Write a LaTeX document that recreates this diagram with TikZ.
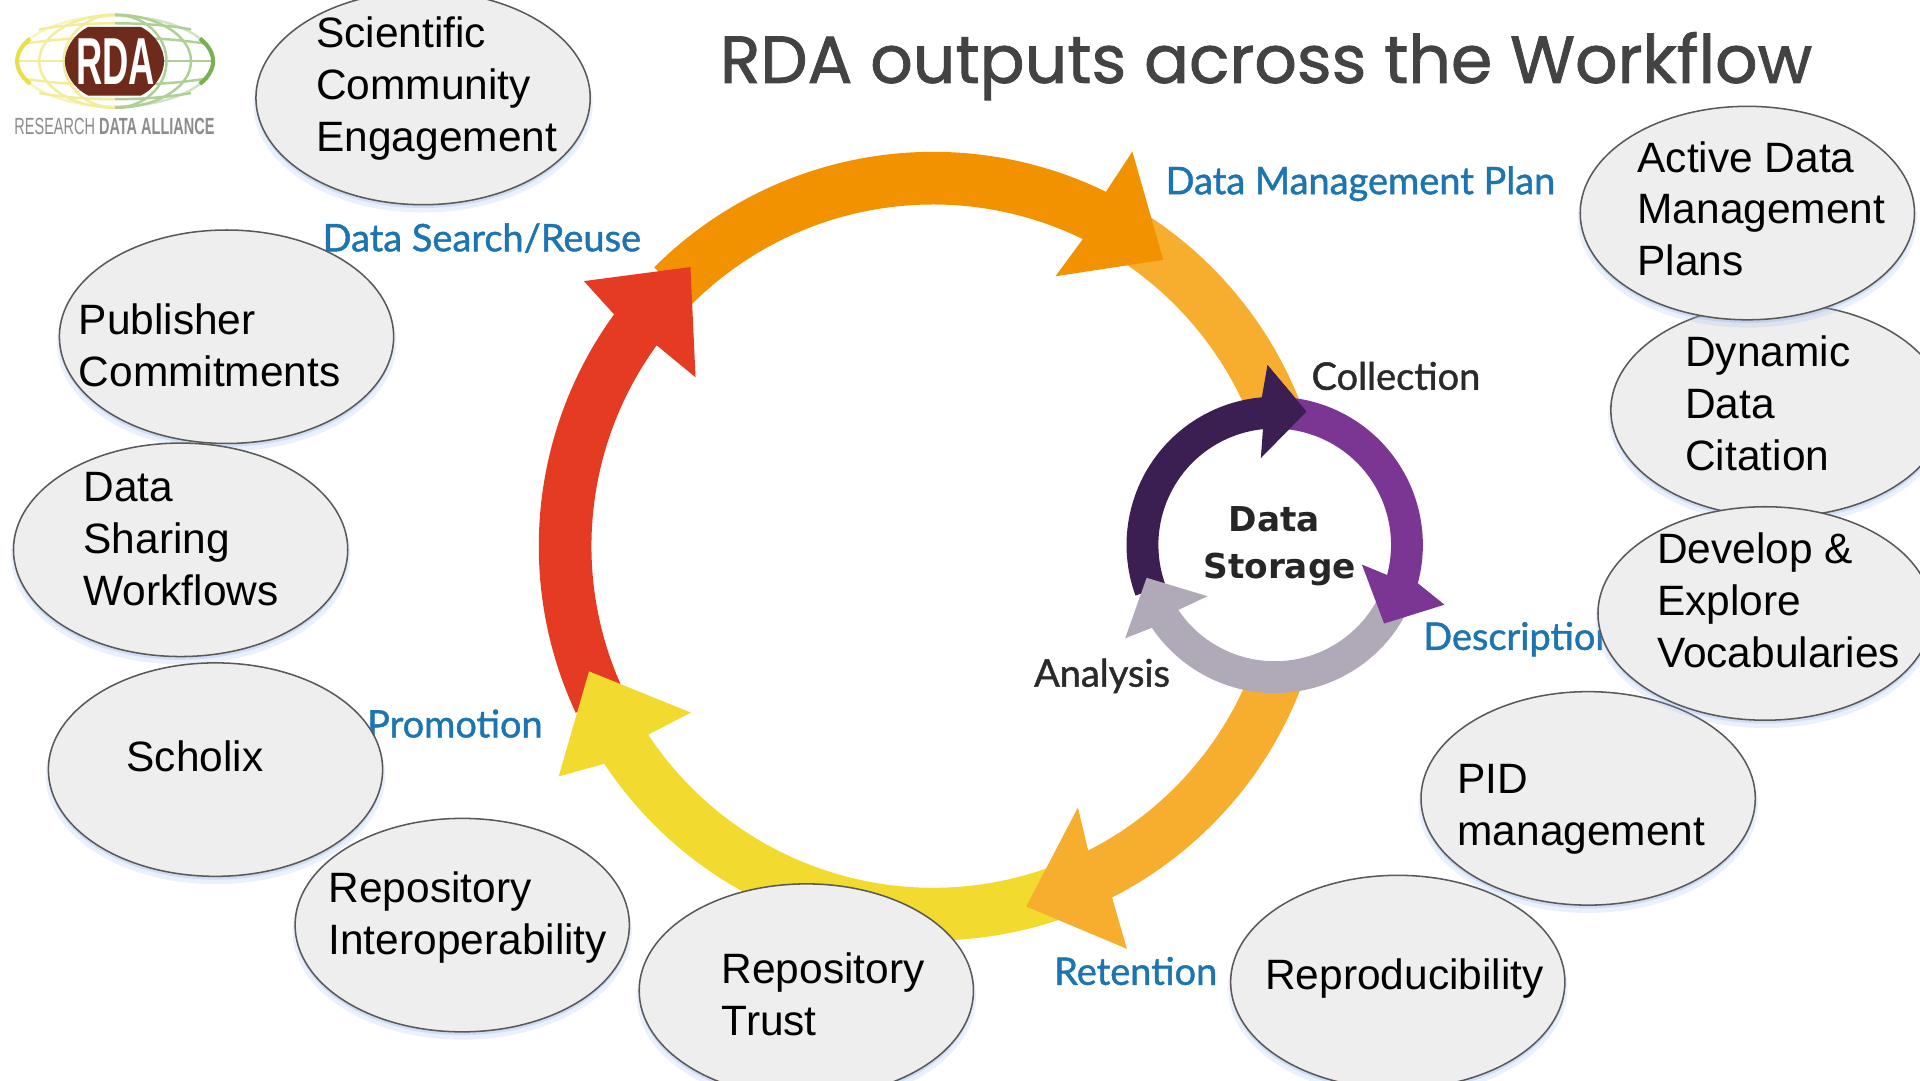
\documentclass[tikz,border=0pt]{standalone}
\usepackage{fontspec}
\setmainfont{Liberation Sans}
\newfontfamily\titlefont[FakeBold=1.2]{Poppins}
\newfontfamily\labfont[FakeBold=1.2]{Lato}
\newfontfamily\storefont{DejaVu Sans}
\usetikzlibrary{shapes.geometric,shadows}
\definecolor{bubfill}{HTML}{EEEEEE}
\definecolor{bubline}{HTML}{595959}
\definecolor{glow}{HTML}{7FA6F0}
\definecolor{titlegrey}{HTML}{434343}
\definecolor{blab}{HTML}{1C75B1}
\definecolor{dlab}{HTML}{2A2A2A}
\definecolor{ordark}{HTML}{F39200}
\definecolor{orlight}{HTML}{F7AE2E}
\definecolor{ringred}{HTML}{E53B23}
\definecolor{ringyel}{HTML}{F2DA2F}
\definecolor{pdark}{HTML}{3C1F52}
\definecolor{pmid}{HTML}{7B3593}
\definecolor{pgrey}{HTML}{B0A9B7}
\definecolor{rdabrown}{HTML}{6E2A1B}
\definecolor{rdagrey}{HTML}{8C8C8C}
\definecolor{gyel}{HTML}{E9DF4A}
\definecolor{ggrn}{HTML}{78B050}
\tikzset{
  bub/.style={ellipse,draw=bubline,line width=0.75pt,fill=bubfill,minimum width=163.8pt,minimum height=104.6pt,inner sep=0pt,
    general shadow={fill=glow,opacity=.16,shadow yshift=-3pt,shadow scale=1.015},
    general shadow={fill=glow,opacity=.25,shadow yshift=-1.6pt}},
  txt/.style={anchor=west,inner sep=0pt,align=left,text=black,font=\fontsize{20.8}{25.45}\selectfont},
  blue label/.style={anchor=center,inner sep=0pt,text=blab,font=\labfont\fontsize{18.6}{22}\selectfont},
  dark label/.style={anchor=center,inner sep=0pt,text=dlab,font=\labfont\fontsize{18.6}{22}\selectfont},
  store/.style={anchor=center,inner sep=0pt,align=center,text=black!85,font=\storefont\bfseries\fontsize{16.8}{23}\selectfont},
  logo pale yellow/.style={draw=gyel!55,line width=1.2pt},
  logo pale green/.style={draw=ggrn!60,line width=1.2pt},
}
% colour, R outer, R inner, tail angle, head-base angle, head points
\newcommand{\ringarrow}[6]{\fill[#1] (#4:#2) arc[start angle=#4,end angle=#5,radius=#2] #6 -- (#5:#3) arc[start angle=#5,end angle=#4,radius=#3] -- cycle;}
\begin{document}
\begin{tikzpicture}[x=0.6pt,y=0.6pt]
\useasboundingbox (0,-882) rectangle (1568,0);
\clip (0,-882) rectangle (1568,0);
\fill[white] (0,-882) rectangle (1568,0);

% logo
\begin{scope}
  \clip (0,-100) rectangle (94,0);
  \begin{scope}[every path/.append style={logo pale yellow}]
    \draw[gyel!35] (94,-50) ellipse [x radius=80,y radius=37];
    \draw (94,-50) ellipse [x radius=62,y radius=38];
    \draw (94,-50) ellipse [x radius=42,y radius=38];
    \draw (14,-50) -- (94,-50);
    \draw (18,-36) .. controls (50,-31) and (70,-31) .. (94,-31);
    \draw (18,-64) .. controls (50,-69) and (70,-69) .. (94,-69);
    \draw (32,-24) .. controls (55,-20) and (75,-19) .. (94,-19);
    \draw (32,-76) .. controls (55,-80) and (75,-81) .. (94,-81);
  \end{scope}
  \draw[gyel,line width=2pt] (94,-50) ++(150:80 and 37) arc[start angle=150,end angle=210,x radius=80,y radius=37];
\end{scope}
\begin{scope}
  \clip (94,-100) rectangle (180,0);
  \begin{scope}[every path/.append style={logo pale green}]
    \draw[ggrn!35] (94,-50) ellipse [x radius=80,y radius=37];
    \draw (94,-50) ellipse [x radius=62,y radius=38];
    \draw (94,-50) ellipse [x radius=42,y radius=38];
    \draw (174,-50) -- (94,-50);
    \draw (170,-36) .. controls (138,-31) and (118,-31) .. (94,-31);
    \draw (170,-64) .. controls (138,-69) and (118,-69) .. (94,-69);
    \draw (156,-24) .. controls (133,-20) and (113,-19) .. (94,-19);
    \draw (156,-76) .. controls (133,-80) and (113,-81) .. (94,-81);
  \end{scope}
  \draw[ggrn,line width=2pt] (94,-50) ++(30:80 and 37) arc[start angle=30,end angle=-30,x radius=80,y radius=37];
\end{scope}
\fill[rdabrown] (72,-22) -- (115,-22) .. controls (127,-28) and (134,-40) .. (134,-50)
  .. controls (134,-60) and (127,-72) .. (115,-78) -- (72,-78)
  .. controls (60,-72) and (53,-60) .. (53,-50) .. controls (53,-40) and (60,-28) .. (72,-22) -- cycle;
\node[inner sep=0pt,text=white] (rdamark) at (94.5,-50) {\resizebox{38.6pt}{22.4pt}{\bfseries RDA}};
\node[inner sep=0pt,text=rdagrey] (rdaname) at (93.5,-103.5) {\resizebox{98pt}{8pt}{RESEARCH \bfseries DATA ALLIANCE}};

% title
\node[inner sep=0pt,text=titlegrey] (title) at (1034,-54) {\resizebox{535pt}{!}{\titlefont RDA outputs across the Workflow}};

% outer ring
\begin{scope}[shift={(762,-446)}]
  \ringarrow{orlight}{322}{279}{60}{22}{}
  \ringarrow{ordark}{322}{279}{135}{64}{-- (63.2:361) -- (51.2:300) -- (65.6:242)}
  \ringarrow{ringred}{322}{279}{205}{144}{-- (142.8:358) -- (131:302) -- (144.6:238)}
  \ringarrow{ringyel}{322}{279}{-68}{-146.5}{-- (-148.4:359) -- (-160:299) -- (-145.5:240)}
  \ringarrow{orlight}{322}{279}{-20}{-63}{-- (-64.3:365) -- (-75.5:304) -- (-61:244)}
\end{scope}

% inner ring
\begin{scope}[shift={(1041,-445)}]
  \ringarrow{pdark}{121}{95}{200}{95}{-- (92.3:147) -- (76.6:112) -- (99:72)}
  \ringarrow{pgrey}{121}{95}{-28}{-146}{-- (-148:144) -- (-165.6:108) -- (-142.6:69)}
  \ringarrow{pmid}{121}{95}{90}{-15}{-- (-19.4:147) -- (-35.7:110) -- (-12.7:73)}
  \fill[pdark] (92.3:147) -- (76.6:112) -- (99:72) -- cycle;
\end{scope}

% ring labels
\node[blue label] (dmp) at (1111,-150) {Data Management Plan};
\node[blue label] (reuse) at (393.5,-194.5) {Data Search/Reuse};
\node[blue label] (promotion) at (371.5,-591) {Promotion};
\node[blue label] (retention) at (927.5,-793) {Retention};
\node[blue label,anchor=west] (description) at (1162,-522) {Description};
\node[dark label] (collection) at (1140,-307) {Collection};
\node[dark label] (analysis) at (900,-552) {Analysis};
\node[store] (storage) at (1045,-446) {Data\rule{5pt}{0pt}\\Storage};

% bubbles
\node[bub] (b1) at (345.5,-80) {};
\node[bub] (b2) at (185,-275) {};
\node[bub] (b3) at (147.5,-449) {};
\node[bub] (b4) at (176,-628.5) {};
\node[bub] (b5) at (377.5,-755.5) {};
\node[bub] (b6) at (658.5,-809) {};
\node[bub] (b7) at (1141.5,-802) {};
\node[bub] (b8) at (1297,-652) {};
\node[bub] (b10) at (1452,-335) {};
\node[bub] (b9) at (1441.5,-501) {};
\node[bub] (b11) at (1427,-174) {};

\node[txt] (t1) at (258,-72.5) {Scientific\\Community\\Engagement};
\node[txt] (t2) at (64,-282) {Publisher\\Commitments};
\node[txt] (t3) at (68,-440.5) {Data\\Sharing\\Workflows};
\node[txt] (t4) at (103,-618) {Scholix};
\node[txt] (t5) at (268,-749) {Repository\\Interoperability};
\node[txt] (t6) at (589,-812) {Repository\\Trust};
\node[txt] (t7) at (1033,-799) {Reproducibility};
\node[txt] (t8) at (1190,-661) {PID\\management};
\node[txt] (t9) at (1353,-490.5) {Develop \&\\Explore\\Vocabularies};
\node[txt] (t10) at (1376,-329.5) {Dynamic\\Data\\Citation};
\node[txt] (t11) at (1337,-170.5) {Active Data\\Management\\Plans};
\end{tikzpicture}
\end{document}
